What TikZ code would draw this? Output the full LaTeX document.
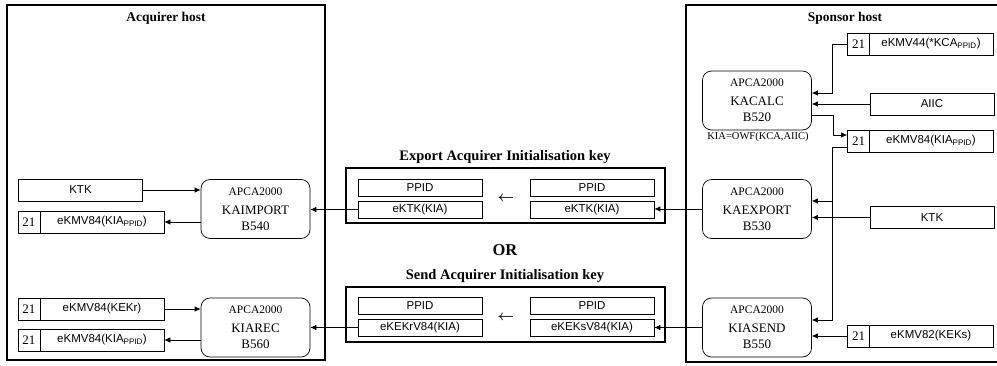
\documentclass[tikz,border=0pt]{standalone}
\usepackage{fontspec}
\setmainfont{Liberation Serif}
\newfontfamily\arialfont{Liberation Sans}
\usetikzlibrary{arrows.meta}
\tikzstyle{host}=[draw, line width=2pt]
\tikzstyle{msgbox}=[draw, line width=2.6pt]
\tikzstyle{field}=[draw, rectangle, inner sep=0pt, minimum width=124, minimum height=22, font=\arialfont\fontsize{11.5}{13}\selectfont]
\tikzstyle{tag}=[draw, rectangle, inner sep=0pt, minimum width=22, minimum height=22, font=\fontsize{13}{14}\selectfont]
\tikzstyle{part}=[draw, rectangle, inner sep=0pt, minimum width=124, minimum height=17, font=\arialfont\fontsize{11.5}{13}\selectfont]
\tikzstyle{fn}=[draw, rounded corners=9pt, inner sep=0pt, minimum width=109, minimum height=59, align=center, font=\fontsize{13}{16}\selectfont]
\tikzstyle{heading}=[font=\bfseries\fontsize{13.4}{15}\selectfont]
\tikzstyle{msgtitle}=[font=\bfseries\fontsize{14.5}{16}\selectfont]
\tikzstyle{swap}=[font=\fontsize{15}{15}\selectfont\boldmath]
\newcommand{\apca}{{\fontsize{11.5}{12}\selectfont APCA2000}\\[3pt]}
\begin{document}
\begin{tikzpicture}[x=1pt, y=-1pt, >={Latex[length=6pt,width=5.5pt]}, line width=0.7pt]
\useasboundingbox (0,0) rectangle (997,365);
\draw[host] (7,5) rectangle (325,360);
\draw[host] (686,5) rectangle (1010,362);
\node[heading] (acqtitle) at (166,18) {Acquirer host};
\node[heading] (spotitle) at (845,18) {Sponsor host};
% acquirer side
\node[field] (ktka) at (80.5,190) {KTK};
\node[tag] (tga) at (29,222) {21};
\node[field] (kiaa) at (102,222) {eKMV84(KIA\textsubscript{PPID})};
\node[fn] (kaimport) at (255.5,209) {\apca KAIMPORT\\B540};
\node[tag] (tgb) at (29,309) {21};
\node[field] (kekr) at (102,309) {eKMV84(KEKr)};
\node[tag] (tgc) at (29,340) {21};
\node[field] (kiab) at (102,340) {eKMV84(KIA\textsubscript{PPID})};
\node[fn] (kiarec) at (255.5,327.5) {\apca KIAREC\\B560};
% messages
\draw[msgbox] (346,168) rectangle (665,223);
\node[msgtitle] (exptitle) at (505,157) {Export Acquirer Initialisation key};
\node[part] (ppida) at (420,187.5) {PPID};
\node[part] (ektka) at (420,209.5) {eKTK(KIA)};
\node[part] (ppidb) at (592,187.5) {PPID};
\node[part] (ektkb) at (592,209.5) {eKTK(KIA)};
\node[swap] (larra) at (506,199) {$\leftarrow$};
\node[font=\bfseries\fontsize{16.5}{18}\selectfont] (ortext) at (505,250) {OR};
\draw[msgbox] (346,287) rectangle (665,342);
\node[msgtitle] (sendtitle) at (505,276) {Send Acquirer Initialisation key};
\node[part] (ppidc) at (420,306) {PPID};
\node[part] (ekekr) at (420,327.5) {eKEKrV84(KIA)};
\node[part] (ppidd) at (592,306) {PPID};
\node[part] (ekeks) at (592,327.5) {eKEKsV84(KIA)};
\node[swap] (larrb) at (506,318) {$\leftarrow$};
% sponsor side
\node[fn] (kacalc) at (757,100.5) {\apca KACALC\\B520};
\node[font=\fontsize{10.5}{11}\selectfont] (owf) at (758,137) {KIA=OWF(KCA,AIIC)};
\node[tag] (tgd) at (858.5,44) {21};
\node[field] (kca) at (931,44) {eKMV44(*KCA\textsubscript{PPID})};
\node[field] (aiic) at (932,104) {AIIC};
\node[tag] (tge) at (858.5,141) {21};
\node[field] (kias) at (931,141) {eKMV84(KIA\textsubscript{PPID})};
\node[fn] (kaexport) at (757,209) {\apca KAEXPORT\\B530};
\node[field] (ktks) at (932,217.5) {KTK};
\node[fn] (kiasend) at (757,327.5) {\apca KIASEND\\B550};
\node[tag] (tgf) at (858.5,336) {21};
\node[field] (keks) at (931,336) {eKMV82(KEKs)};
\coordinate (ja) at (832,93);
\coordinate (jb) at (833,135);
\coordinate (jc) at (832,147);
\coordinate (jd) at (832,201);
\coordinate (je) at (832,320);
\draw[->] (ktka.east) -- (kaimport.west |- ktka.east);
\draw[->] (kaimport.west |- kiaa.east) -- (kiaa.east);
\draw[->] (kekr.east) -- (kiarec.west |- kekr.east);
\draw[->] (kiarec.west |- kiab.east) -- (kiab.east);
\draw[->] (ektka.west) -- (kaimport.east |- ektka.west);
\draw[->] (ekekr.west) -- (kiarec.east |- ekekr.west);
\draw[->] (kaexport.west) -- (kaexport.west -| ektkb.east);
\draw[->] (kiasend.west) -- (kiasend.west -| ekeks.east);
\draw[->] (tgd.west) -| (ja) -- (kacalc.east |- ja);
\draw[->] (aiic.west) -- (kacalc.east |- aiic.west);
\draw[->] (kacalc.east |- 0,115) -| (jb) -- (tge.west |- jb);
\draw[->] (tge.west |- jc) -- (jc) |- (kiasend.east |- je);
\draw[->] (jd) -- (kaexport.east |- jd);
\draw[->] (ktks.west) -- (kaexport.east |- ktks.west);
\draw[->] (tgf.west) -- (kiasend.east |- tgf.west);
\end{tikzpicture}
\end{document}
